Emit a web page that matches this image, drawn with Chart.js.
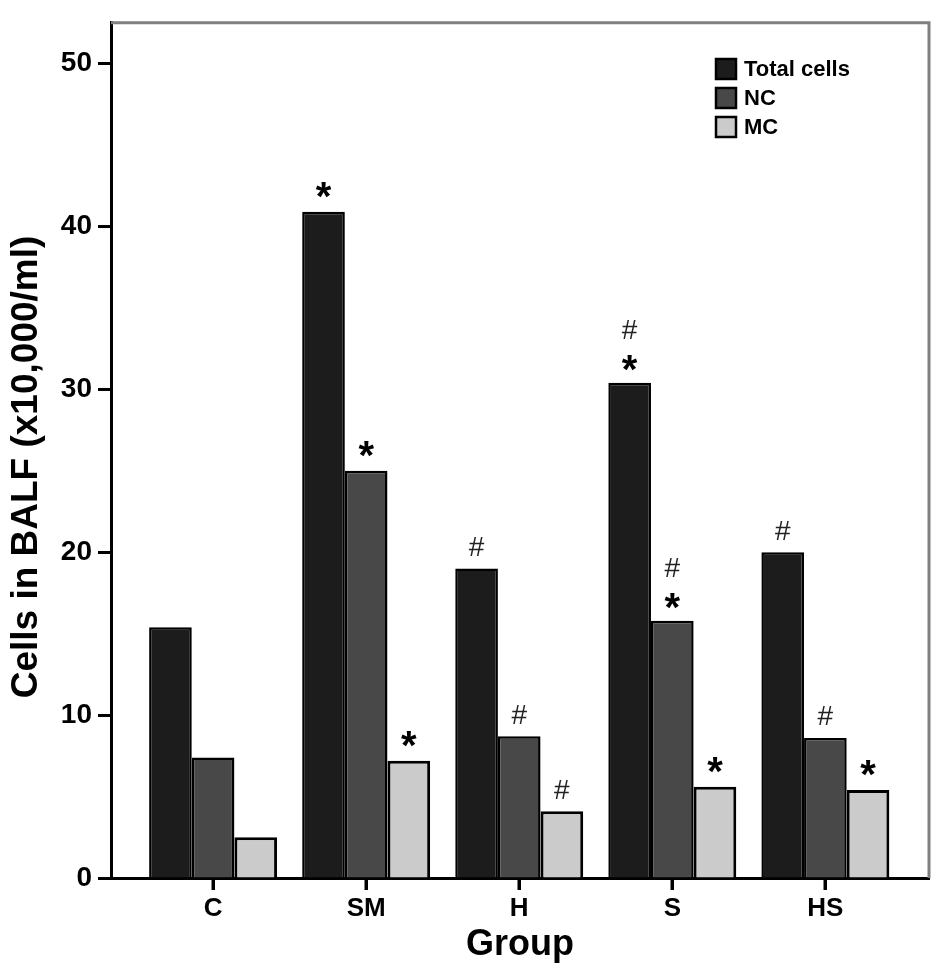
<!DOCTYPE html>
<html>
<head>
<meta charset="utf-8">
<script src="https://cdn.jsdelivr.net/npm/chart.js@4.4.0/dist/chart.umd.min.js"></script>
<style>
  html, body { margin: 0; padding: 0; background: #fff; }
  #wrap { width: 945px; height: 978px; }
</style>
</head>
<body>
<div id="wrap"><canvas id="chart" width="945" height="978"></canvas></div>
<script>
const groups = ['C', 'SM', 'H', 'S', 'HS'];
const totalCells = [15.4, 40.9, 19.0, 30.4, 20.0];
const ncCells = [7.4, 25.0, 8.7, 15.8, 8.6];
const mcCells = [2.5, 7.2, 4.1, 5.6, 5.4];
// significance marks, listed bottom to top
const totalMarks = [[], ['*'], ['#'], ['*', '#'], ['#']];
const ncMarks = [[], ['*'], ['#'], ['*', '#'], ['#']];
const mcMarks = [[], ['*'], ['#'], ['*'], ['*']];
const yTicks = [0, 10, 20, 30, 40, 50];
const yTitle = 'Cells in BALF (x10,000/ml)';

const FONT = '"Liberation Sans", Arial, sans-serif';

function points(arr) {
  return arr.map((v, i) => ({ x: i, y: v }));
}

const marksPlugin = {
  id: 'marks',
  afterDatasetsDraw(chart) {
    const ctx = chart.ctx;
    ctx.save();
    ctx.textAlign = 'center';
    ctx.textBaseline = 'alphabetic';
    chart.data.datasets.forEach((ds, di) => {
      const meta = chart.getDatasetMeta(di);
      meta.data.forEach((bar, i) => {
        const marks = ds.marks[i];
        marks.forEach((m, k) => {
          const star = m === '*';
          ctx.font = star ? 'bold 40px ' + FONT : '28px ' + FONT;
          ctx.fillStyle = star ? '#000' : '#222';
          const tm = ctx.measureText(m);
          let gap = 22;
          if (marks.length > 1) gap = k === 0 ? 20 : 53;
          const cy = bar.y - gap;
          const y = cy + (tm.actualBoundingBoxAscent - tm.actualBoundingBoxDescent) / 2;
          ctx.fillText(m, bar.x, y);
        });
      });
    });
    ctx.restore();
  }
};

const framePlugin = {
  id: 'frame',
  afterDraw(chart) {
    const { ctx, chartArea: a } = chart;
    const xs = chart.scales.x;
    ctx.save();
    ctx.strokeStyle = '#808080';
    ctx.lineWidth = 3;
    ctx.beginPath();
    ctx.moveTo(a.left, a.top);
    ctx.lineTo(a.right, a.top);
    ctx.lineTo(a.right, a.bottom);
    ctx.stroke();

    // small tick marks under the group axis
    ctx.strokeStyle = '#000';
    ctx.lineWidth = 3;
    xs.ticks.forEach((t, i) => {
      const px = Math.round(xs.getPixelForTick(i));
      ctx.beginPath();
      ctx.moveTo(px, a.bottom);
      ctx.lineTo(px, a.bottom + 12);
      ctx.stroke();
    });

    // y axis title
    ctx.save();
    ctx.translate(27, 467);
    ctx.rotate(-Math.PI / 2);
    ctx.font = 'bold 37px ' + FONT;
    ctx.fillStyle = '#000';
    ctx.textAlign = 'center';
    ctx.textBaseline = 'middle';
    ctx.fillText(yTitle, 0, 0);
    ctx.restore();

    // legend, drawn inside the plot frame
    const items = chart.data.datasets;
    ctx.font = 'bold 22px ' + FONT;
    ctx.textBaseline = 'middle';
    ctx.textAlign = 'left';
    items.forEach((ds, i) => {
      const cy = 69 + i * 29;
      ctx.fillStyle = ds.backgroundColor;
      ctx.fillRect(716, cy - 10, 20, 20);
      ctx.strokeStyle = '#000';
      ctx.lineWidth = 2.5;
      ctx.strokeRect(716, cy - 10, 20, 20);
      ctx.fillStyle = '#000';
      ctx.fillText(ds.label, 744, cy + 1);
    });
    ctx.restore();
  }
};

new Chart(document.getElementById('chart'), {
  type: 'bar',
  data: {
    datasets: [
      {
        label: 'Total cells',
        data: points(totalCells),
        marks: totalMarks,
        backgroundColor: '#1c1c1c',
        borderColor: '#000',
        borderWidth: 2.5,
      },
      {
        label: 'NC',
        data: points(ncCells),
        marks: ncMarks,
        backgroundColor: '#484848',
        borderColor: '#000',
        borderWidth: 2.5,
      },
      {
        label: 'MC',
        data: points(mcCells),
        marks: mcMarks,
        backgroundColor: '#cbcbcb',
        borderColor: '#000',
        borderWidth: 3,
      },
    ],
  },
  options: {
    responsive: false,
    animation: false,
    devicePixelRatio: 1,
    layout: { padding: { top: 15, right: 16, left: 0, bottom: 0 } },
    plugins: {
      legend: { display: false },
      tooltip: { enabled: false },
    },
    datasets: {
      bar: { categoryPercentage: 0.836, barPercentage: 1.0 },
    },
    scales: {
      x: {
        type: 'linear',
        offset: false,
        min: -0.667,
        max: 4.677,
        afterBuildTicks(scale) {
          scale.ticks = groups.map((g, i) => ({ value: i }));
        },
        afterFit(scale) {
          scale.height = 100;
        },
        ticks: {
          callback: (v) => groups[v],
          color: '#000',
          font: { family: FONT, size: 26, weight: 'bold' },
          padding: 3,
          maxRotation: 0,
          autoSkip: false,
        },
        grid: {
          display: true,
          offset: false,
          drawOnChartArea: false,
          drawTicks: true,
          tickLength: 12,
          tickColor: '#000',
          tickWidth: 3,
        },
        border: { color: '#000', width: 3 },
        title: {
          display: true,
          text: 'Group',
          color: '#000',
          font: { family: FONT, size: 36, weight: 'bold' },
          padding: { top: 0, bottom: 11 },
        },
      },
      y: {
        min: 0,
        max: 52.5,
        afterBuildTicks(scale) {
          scale.ticks = yTicks.map((v) => ({ value: v }));
        },
        afterFit(scale) {
          scale.width = 111;
        },
        ticks: {
          color: '#000',
          font: { family: FONT, size: 28, weight: 'bold' },
          padding: 6,
        },
        grid: {
          drawOnChartArea: false,
          tickLength: 13,
          tickColor: '#000',
          tickWidth: 3,
        },
        border: { color: '#000', width: 3 },
        title: { display: false },
      },
    },
  },
  plugins: [marksPlugin, framePlugin],
});
</script>
</body>
</html>
